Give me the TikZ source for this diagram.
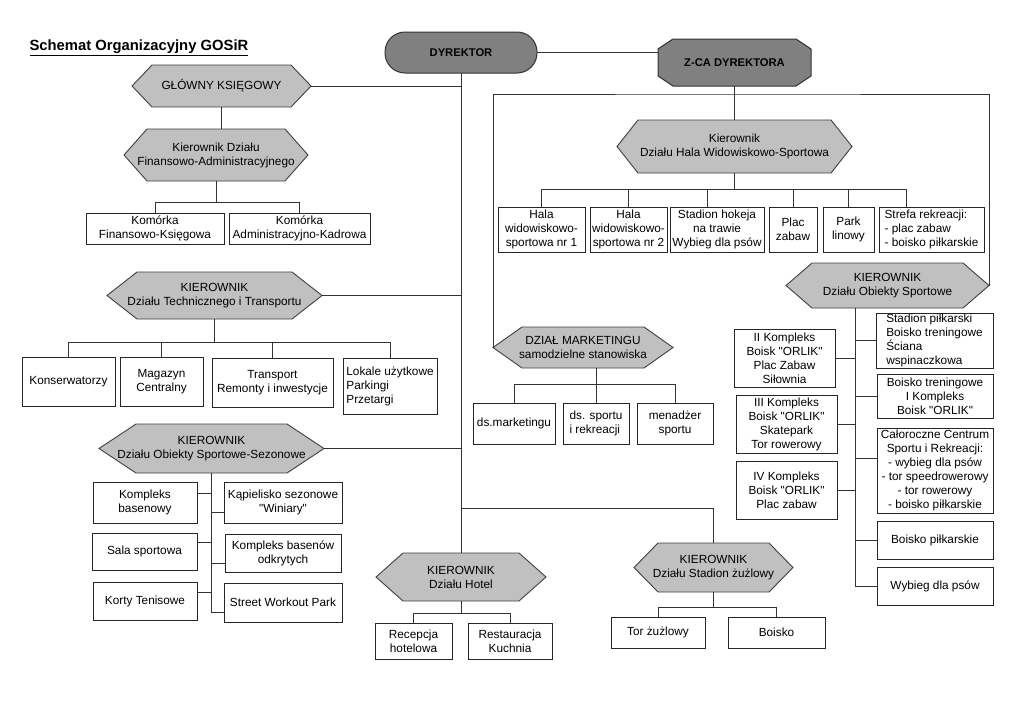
\documentclass[tikz,border=0pt]{standalone}
\usepackage{fontspec}
\setmainfont{Liberation Sans}[Ligatures=TeXOff]
\usepackage{tikz}
\usetikzlibrary{calc}

\definecolor{dirgray}{RGB}{128,128,128}
\definecolor{hexgray}{RGB}{192,192,192}

\tikzset{
  link/.style={draw=black!80, line width=1pt},
  unitbox/.style={draw=black!85, fill=white, line width=1pt, inner sep=0pt, outer sep=0pt, align=center},
  hexlabel/.style={inner sep=0pt, outer sep=0pt, align=center},
  hexshape/.style={draw=black!75, fill=hexgray, line width=0.9pt},
  headfont/.style={font=\fontsize{11.2}{13}\selectfont\bfseries},
}

% white unit: name, x1, y1, x2, y2, text (pixel corners)
\newcommand{\boxw}[7][]{\node[unitbox,#1,minimum width={(#5-#3)*1pt},minimum height={(#6-#4)*1pt}] (#2) at ({(#3+#5)/2},{(#4+#6)/2}) {#7};}
% grey hexagon: name, x1, y1, x2, y2, cut, text
\newcommand{\hexg}[7]{\filldraw[hexshape] (#2,{(#3+#5)/2}) -- (#2+#6,#3) -- (#4-#6,#3) -- (#4,{(#3+#5)/2}) -- (#4-#6,#5) -- (#2+#6,#5) -- cycle;
  \node[hexlabel,minimum width={(#4-#2)*1pt},minimum height={(#5-#3)*1pt}] (#1) at ({(#2+#4)/2},{(#3+#5)/2}) {#7};}

\begin{document}
\begin{tikzpicture}[x=1pt, y=-1pt, font=\fontsize{11.8}{14}\selectfont]
        \useasboundingbox[fill=white] (0,0) rectangle (1024,724);

        \node[anchor=west, font=\fontsize{14.8}{17}\selectfont\bfseries] (title) at (26,48) {\underline{Schemat Organizacyjny GOSiR}};

        % top
        \node[draw=black!80, fill=dirgray, line width=1pt, rounded corners=20pt, minimum width=152pt, minimum height=41pt, inner sep=0pt, outer sep=0pt, headfont] (dyr) at (461,52.5) {DYREKTOR};
        \filldraw[draw=black!80, fill=dirgray, line width=1pt] (658,49) -- (673,39) -- (796,39) -- (811,49) -- (811,76) -- (796,86) -- (673,86) -- (658,76) -- cycle;
        \node[hexlabel, minimum width=153pt, minimum height=47pt, headfont] (zca) at (734.5,62.5) {Z-CA DYREKTORA};

        % left column
        \hexg{glowny}{132}{65}{311}{107}{20}{GŁÓWNY KSIĘGOWY}
        \hexg{kfa}{124}{129}{308}{181}{23}{Kierownik Działu\\Finansowo-Administracyjnego}
        \boxw{komfk}{86}{213}{224}{244}{Komórka\\Finansowo-Księgowa}
        \boxw{komak}{229}{213}{370}{244}{Komórka\\Administracyjno-Kadrowa}

        \hexg{ktt}{107}{272}{322}{319}{30}{KIEROWNIK\\Działu Technicznego i Transportu}
        \boxw{kons}{22}{357}{115}{406}{Konserwatorzy}
        \boxw{mag}{120}{357}{203}{406}{Magazyn\\Centralny}
        \boxw{trans}{212}{358}{333}{407}{Transport\\Remonty i inwestycje}
        \boxw[align=left]{lok}{343}{358}{437}{414}{Lokale użytkowe\\Parkingi\\Przetargi}

        \hexg{kos}{99}{424}{324}{473}{37}{KIEROWNIK\\Działu Obiekty Sportowe-Sezonowe}
        \boxw{basen}{93}{482}{197}{523}{Kompleks\\basenowy}
        \boxw{sala}{92}{533}{197}{570}{Sala sportowa}
        \boxw{korty}{93}{582}{197}{620}{Korty Tenisowe}
        \boxw{kap}{224}{482}{342}{523}{Kąpielisko sezonowe\\"Winiary"}
        \boxw{kbo}{225}{534}{341}{572}{Kompleks basenów\\odkrytych}
        \boxw{swp}{224}{583}{342}{622}{Street Workout Park}

        % hala
        \hexg{khw}{617}{120}{852}{173}{21}{Kierownik\\Działu Hala Widowiskowo-Sportowa}
        \boxw{hala1}{498}{207}{585}{252}{Hala\\widowiskowo-\\sportowa nr 1}
        \boxw{hala2}{590}{207}{667}{252}{Hala\\widowiskowo-\\sportowa nr 2}
        \boxw{hokej}{670}{207}{764}{252}{Stadion hokeja\\na trawie\\Wybieg dla psów}
        \boxw{plac}{769}{207}{817}{252}{Plac\\zabaw}
        \boxw{park}{823}{207}{874}{252}{Park\\linowy}
        \boxw[align=left]{strefa}{879}{207}{984}{252}{Strefa rekreacji:\\- plac zabaw\\- boisko piłkarskie}

        % marketing
        \hexg{dmk}{493}{327}{673}{368}{29}{DZIAŁ MARKETINGU\\samodzielne stanowiska}
        \boxw{dsm}{473}{403}{555}{444}{ds.marketingu}
        \boxw[align=left]{dss}{563}{403}{629}{444}{ds. sportu\\i rekreacji}
        \boxw{men}{637}{403}{713}{444}{menadżer\\sportu}

        % obiekty sportowe
        \hexg{kob}{786}{263}{989}{308}{26}{KIEROWNIK\\Działu Obiekty Sportowe}
        \boxw{orl2}{734}{329}{835}{387}{II Kompleks\\Boisk "ORLIK"\\Plac Zabaw\\Siłownia}
        \boxw{orl3}{736}{395}{837}{453}{III Kompleks\\Boisk "ORLIK"\\Skatepark\\Tor rowerowy}
        \boxw{orl4}{736}{461}{837}{519}{IV Kompleks\\Boisk "ORLIK"\\Plac zabaw}
        \boxw[align=left]{stad}{876}{313}{993}{368}{Stadion piłkarski\\Boisko treningowe\\Ściana\\wspinaczkowa}
        \boxw{btr}{877}{374}{993}{418}{Boisko treningowe\\I Kompleks\\Boisk "ORLIK"}
        \boxw{cal}{877}{428}{993}{513}{Całoroczne Centrum\\Sportu i Rekreacji:\\- wybieg dla psów\\- tor speedrowerowy\\- tor rowerowy\\- boisko piłkarskie}
        \boxw{bpil}{877}{521}{993}{559}{Boisko piłkarskie}
        \boxw{wyb}{877}{567}{993}{605}{Wybieg dla psów}

        % hotel, stadion
        \hexg{kho}{376}{553}{546}{601}{27}{KIEROWNIK\\Działu Hotel}
        \boxw{rec}{375}{623}{452}{659}{Recepcja\\hotelowa}
        \boxw{rest}{468}{623}{552}{659}{Restauracja\\Kuchnia}
        \hexg{ksz}{634}{543}{793}{592}{24}{KIEROWNIK\\Działu Stadion żużlowy}
        \boxw{tor}{611}{617}{705}{648}{Tor żużlowy}
        \boxw{boi}{728}{617}{825}{648}{Boisko}

        % connectors
        \draw[link] (dyr.south) -- (kho.north);
        \draw[link] (dyr.east) -- (dyr.east -| zca.west);
        \foreach \h in {glowny,ktt,kos} \draw[link] (\h.east) -- (\h.east -| dyr.south);
        \draw[link] (glowny.south) -- (glowny.south |- kfa.north);
        \draw[link] (kfa.south) -- ++(0,21) -| (komfk.north);
        \draw[link] (kfa.south) -- ++(0,21) -| (komak.north);
        \foreach \c in {kons,mag,trans,lok} \draw[link] (ktt.south) -- ++(0,23) -| (\c.north);
        \path ([yshift=-10pt]swp.west) coordinate (swpstub);
        \draw[link] (kos.south) -- (kos.south |- swpstub);
        \foreach \b in {basen,sala,korty} \draw[link] ([yshift=9pt]\b.east) -- ([yshift=9pt]\b.east -| kos.south);
        \foreach \b in {kap,kbo,swp} \draw[link] ([yshift=-10pt]\b.west) -- ([yshift=-10pt]\b.west -| kos.south);

        \draw[link] (zca.south) -- (khw.north);
        \path (zca.south) ++(0,8) coordinate (zbar);
        \draw[link] (dmk.west) |- (zbar) -| (kob.east);
        \foreach \c/\s in {hala1/0,hala2/0,hokej/-10,plac/0,park/0,strefa/-25} \draw[link] (khw.south) -- ++(0,16) -| ([xshift=\s pt]\c.north);

        \draw[link] (dss.north) -- (dss.north |- dmk.south);
        \draw[link] (dsm.north) -- ++(0,-19) -| (men.north);

        \path (kob.south) ++(-32.5,0) coordinate (kobtrunk);
        \draw[link] (kobtrunk) -- (kobtrunk |- wyb.west);
        \foreach \b in {orl2,orl3,orl4} \draw[link] (\b.east) -- (\b.east -| kobtrunk);
        \foreach \b/\s in {stad/0,btr/0,cal/12,bpil/0,wyb/0} \draw[link] ([yshift=\s pt]\b.west) -- ([yshift=\s pt]\b.west -| kobtrunk);

        \foreach \c in {rec,rest} \draw[link] (kho.south) -- ++(0,12) -| (\c.north);
        \foreach \c in {tor,boi} \draw[link] (ksz.south) -- ++(0,15) -| (\c.north);
        \path (ksz.north) ++(0,-35) coordinate (kszbar);
        \draw[link] (ksz.north) -- (kszbar) -- (kszbar -| dyr.south);
\end{tikzpicture}
\end{document}
